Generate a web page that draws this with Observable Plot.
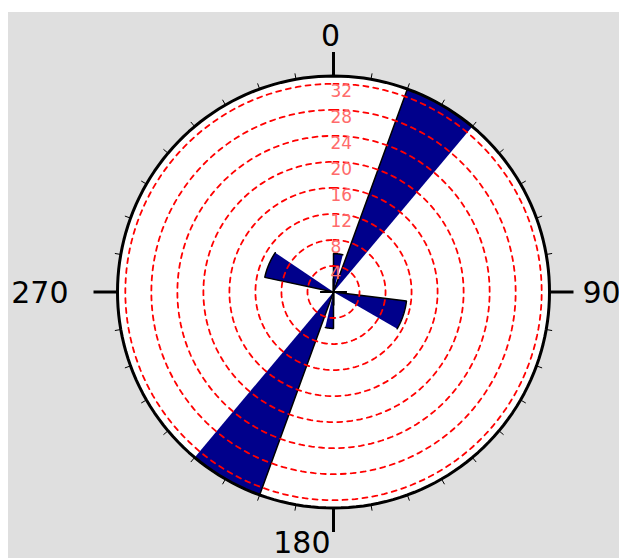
<!DOCTYPE html>
<html><head><meta charset="utf-8">
<script src="https://cdn.jsdelivr.net/npm/d3@7"></script>
<script src="https://cdn.jsdelivr.net/npm/@observablehq/plot@0.6"></script>
<style>
body{margin:0;background:#fff;}
#chart{position:absolute;left:8px;top:12px;}
</style>
</head><body><div id="chart"></div>
<script>
// Petals of the rose diagram (azimuth in degrees clockwise from north)
const petalStart = [0, 20, 97, 180, 200, 282];
const petalEnd   = [14, 40, 120, 193, 220, 304];
const petalCount = [5.9, 33.2, 11.3, 5.6, 33.2, 10.8];
// Concentric rings and their labels
const ringValues = [4, 8, 12, 16, 20, 24, 28, 32];
const outerValue = 33.2;
// Compass labels
const compassLabels = ["0", "90", "180", "270"];
const compassAngles = [0, 90, 180, 270];
const minorTickAngles = d3.range(0, 360, 10);

const W = 611, H = 546, R = 216;
const ppu = R / outerValue;
const rad = a => a * Math.PI / 180;
const px = (a, r) => r * Math.sin(rad(a));
const py = (a, r) => r * Math.cos(rad(a));

const circlePts = (v, id) => d3.range(0, 361, 2).map(a => ({id, x: px(a, v), y: py(a, v)}));

const petalPts = [];
petalStart.forEach((s, i) => {
  const e = petalEnd[i], v = petalCount[i];
  petalPts.push({id: i, x: 0, y: 0});
  d3.range(41).forEach(k => {
    const a = s + (e - s) * k / 40;
    petalPts.push({id: i, x: px(a, v), y: py(a, v)});
  });
});

const ringPts = ringValues.flatMap(v => circlePts(v, v));
const outerPts = circlePts(outerValue, "outer");

const minorTicks = minorTickAngles.map(a => ({
  x1: px(a, outerValue), y1: py(a, outerValue),
  x2: px(a, outerValue + 6 / ppu), y2: py(a, outerValue + 6 / ppu)
}));
const majorTicks = compassAngles.map(a => ({
  x1: px(a, outerValue), y1: py(a, outerValue),
  x2: px(a, outerValue + 24 / ppu), y2: py(a, outerValue + 24 / ppu)
}));
const compass = compassLabels.map((t, i) => ({
  t, x: px(compassAngles[i], outerValue), y: py(compassAngles[i], outerValue)
}));

const cx = 325, cy = 279.5;
const chart = Plot.plot({
  width: W, height: H,
  marginLeft: cx - R, marginRight: W - (cx + R),
  marginTop: cy - R, marginBottom: H - (cy + R),
  x: {domain: [-outerValue, outerValue], axis: null},
  y: {domain: [-outerValue, outerValue], axis: null},
  style: {background: "#dfdfdf", overflow: "visible"},
  marks: [
    Plot.line(outerPts, {x: "x", y: "y", fill: "white", stroke: "none"}),
    Plot.line(petalPts, {x: "x", y: "y", z: "id", fill: "#00008b", stroke: "black", strokeWidth: 1.5, strokeLinejoin: "miter"}),
    Plot.line(ringPts, {x: "x", y: "y", z: "id", stroke: "#ff0000", strokeWidth: 1.8, strokeDasharray: "5,5"}),
    Plot.text(ringValues, {x: () => 0, y: d => d, text: d => String(d), textAnchor: "start", lineAnchor: "top", dx: -3, dy: 1, fill: "#ff6b6b", fontSize: 17, fontFamily: "DejaVu Sans"}),
    Plot.line(outerPts, {x: "x", y: "y", stroke: "black", strokeWidth: 3}),
    Plot.link(minorTicks, {x1: "x1", y1: "y1", x2: "x2", y2: "y2", stroke: "black", strokeWidth: 1}),
    Plot.link(majorTicks, {x1: "x1", y1: "y1", x2: "x2", y2: "y2", stroke: "black", strokeWidth: 3}),
    Plot.dot([{x: 0, y: 0}], {x: "x", y: "y", symbol: "plus", r: 8.7, stroke: "black", strokeWidth: 2}),
    Plot.text(compass.filter(d => d.t === "0"), {x: "x", y: "y", text: "t", textAnchor: "middle", lineAnchor: "bottom", dx: -3, dy: -30, fontSize: 30, fontFamily: "DejaVu Sans", fill: "black"}),
    Plot.text(compass.filter(d => d.t === "90"), {x: "x", y: "y", text: "t", textAnchor: "start", lineAnchor: "middle", dx: 33, dy: 1, fontSize: 30, fontFamily: "DejaVu Sans", fill: "black"}),
    Plot.text(compass.filter(d => d.t === "180"), {x: "x", y: "y", text: "t", textAnchor: "end", lineAnchor: "bottom", dx: -3, dy: 44.5, fontSize: 30, fontFamily: "DejaVu Sans", fill: "black"}),
    Plot.text(compass.filter(d => d.t === "270"), {x: "x", y: "y", text: "t", textAnchor: "end", lineAnchor: "middle", dx: -49, dy: 1, fontSize: 30, fontFamily: "DejaVu Sans", fill: "black"})
  ]
});
document.getElementById("chart").appendChild(chart);
</script>
</body></html>
